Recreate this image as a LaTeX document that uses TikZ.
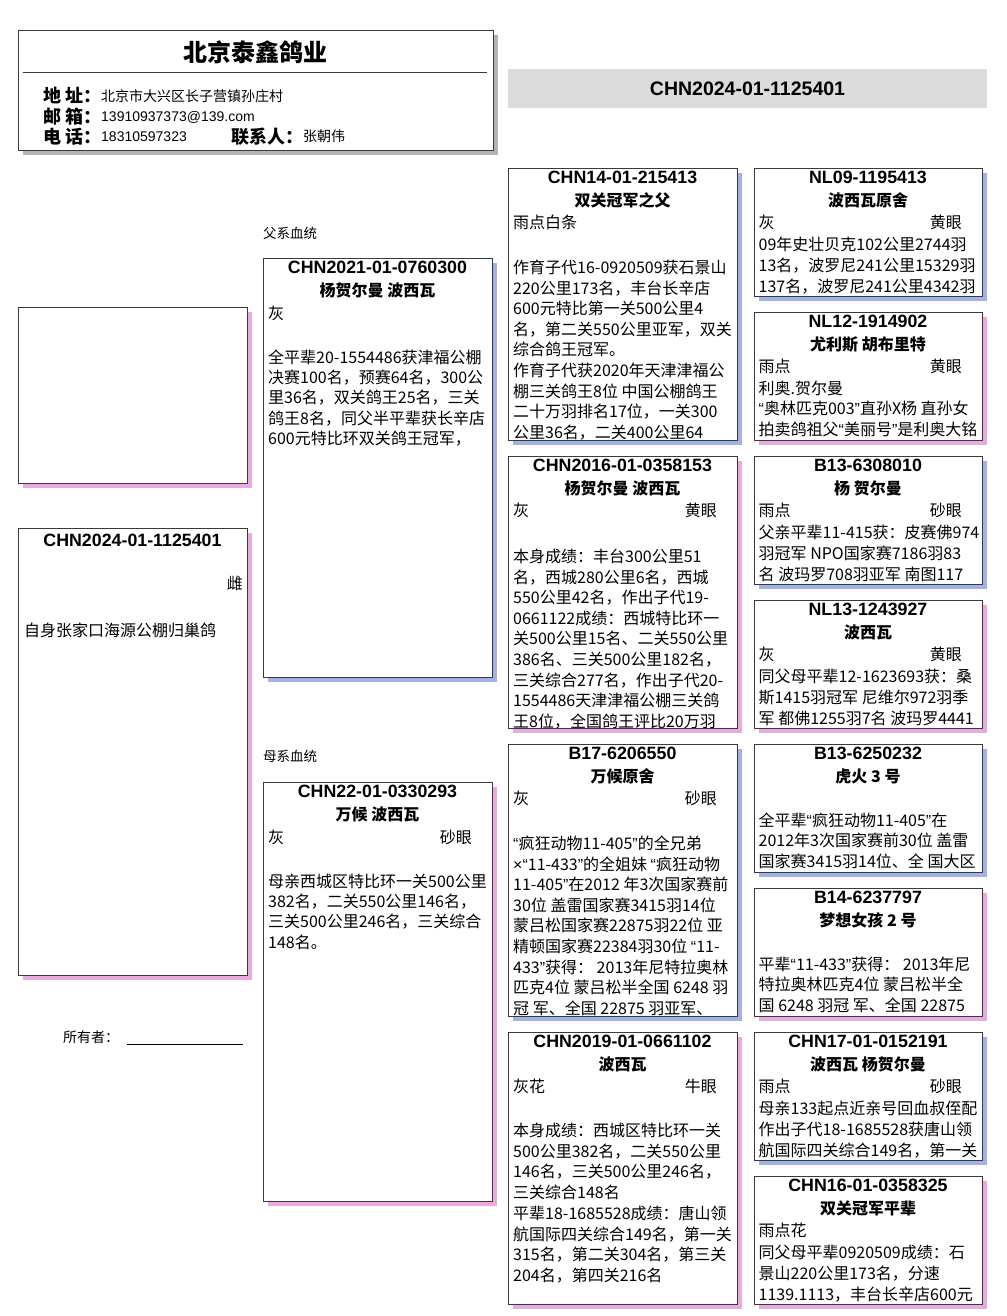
\documentclass[tikz,border=0pt]{standalone}
\usepackage{fontspec}
\setmainfont{Noto Sans CJK SC}
\newfontfamily\idfont{Liberation Sans}
\definecolor{shB}{HTML}{A3B2E6}
\definecolor{shP}{HTML}{EBAADF}
\definecolor{shG}{HTML}{B4B4B4}
\definecolor{edge}{HTML}{3A3A3A}
\definecolor{band}{HTML}{DCDCDC}
\newcommand\bodyf{\fontsize{16}{20}\selectfont}
\newcommand\idf{\idfont\bfseries\fontsize{17.8}{20}\selectfont}
\newcommand\nmf{\bfseries\fontsize{16}{20}\selectfont}
\newcommand\oq{{\idfont“}}
\newcommand\cq{{\idfont”}}
\newcommand\tms{{\idfont×}}
\tikzset{
  txt/.style={anchor=base west, inner sep=0pt, font=\bodyf},
  ttl/.style={anchor=base, inner sep=0pt, font=\idf},
  nm/.style={anchor=base, inner sep=0pt, font=\nmf},
  frame/.style={draw=edge, line width=0.9pt},
}
% box background: x1,y1,x2,y2,shadow
\newcommand\boxbg[5]{%
  \fill[#5] ({#1+5},{#2+5}) rectangle ({#3+5},{#4+5});
  \fill[white] (#1,#2) rectangle (#3,#4);}
\newcommand\boxfg[4]{\draw[frame] (#1,#2) rectangle (#3,#4);}
% head: prefix,x1,y1,x2,id,name
\newcommand\pedhead[6]{%
  \node[ttl] (#1id) at ({(#2+#4)/2},{#3+9.5+6.3}) {#5};
  \node[nm] (#1nm) at ({(#2+#4)/2},{#3+32+6}) {#6};}
% color line: prefix,x1,y1,x2,color,eye
\newcommand\pedcolor[6]{%
  \node[txt] (#1c) at ({#2+5},{#3+54+6}) {#5};
  \node[txt,anchor=base east] (#1e) at ({#4-20},{#3+54+6}) {#6};}
% body: prefix,x,first centre,spacing,lines
\newcommand\pedbody[5]{%
  \foreach \bl [count=\i] in {#5}{\node[txt] (#1b\i) at (#2,{#3+(\i-1)*#4+6}) {\bl};}}
\begin{document}
\begin{tikzpicture}[x=1pt,y=-1pt]
\useasboundingbox (0,0) rectangle (1006,1316);
\fill[white] (0,0) rectangle (1006,1316);

% ---------- header ----------
\boxbg{18}{30}{493}{150}{shG}
\node[anchor=base, inner sep=0pt, font=\bfseries\fontsize{24}{24}\selectfont] (farm) at (255,62) {北京泰鑫鸽业};
\draw[edge, line width=0.8pt] (22.7,72.7) -- (487,72.7);
\node[anchor=base west, inner sep=0pt, font=\bfseries\fontsize{18}{20}\selectfont] (l1) at (43,102.8) {地\hspace{4pt}址：};
\node[anchor=base west, inner sep=0pt, font=\bfseries\fontsize{18}{20}\selectfont] (l2) at (43,123.5) {邮\hspace{4pt}箱：};
\node[anchor=base west, inner sep=0pt, font=\bfseries\fontsize{18}{20}\selectfont] (l3) at (43,143.5) {电\hspace{4pt}话：};
\node[anchor=base west, inner sep=0pt, font=\bfseries\fontsize{18}{20}\selectfont] (l4) at (231.7,143.5) {联系人：};
\node[anchor=base west, inner sep=0pt, font=\fontsize{14}{16}\selectfont] (v1) at (101,101.3) {北京市大兴区长子营镇孙庄村};
\node[anchor=base west, inner sep=0pt, font=\idfont\fontsize{14}{16}\selectfont] (v2) at (101,122) {13910937373@139.com};
\node[anchor=base west, inner sep=0pt, font=\idfont\fontsize{14}{16}\selectfont] (v3) at (101,142) {18310597323};
\node[anchor=base west, inner sep=0pt, font=\fontsize{14}{16}\selectfont] (v4) at (303,142) {张朝伟};
\boxfg{18}{30}{493}{150}

% ---------- ring band ----------
\fill[band] (508,69) rectangle (987,108);
\node[anchor=base, inner sep=0pt, font=\idfont\bfseries\fontsize{19.5}{20}\selectfont] (ring) at (747.5,96) {CHN2024-01-1125401};

% ---------- column 1 ----------
\boxbg{18}{307}{247}{483}{shP}
\boxfg{18}{307}{247}{483}
\boxbg{18}{528}{247}{975}{shP}
\node[ttl] (selfid) at (132.5,546.3) {CHN2024-01-1125401};
\node[txt,anchor=base east] (selfsex) at (243,589) {雌};
\node[txt] (selfnote) at (24,636) {自身张家口海源公棚归巢鸽};
\boxfg{18}{528}{247}{975}
\node[anchor=base west, inner sep=0pt, font=\fontsize{14}{16}\selectfont] (owner) at (63,1042.3) {所有者：};
\coordinate (ulA) at (127,1044);
\coordinate (ulB) at (243,1044);
\draw[black, line width=0.7pt] (ulA) -- (ulB);

% ---------- column 2 ----------
\node[anchor=base west, inner sep=0pt, font=\fontsize{13.5}{16}\selectfont] (sirelab) at (263,238) {父系血统};
\node[anchor=base west, inner sep=0pt, font=\fontsize{13.5}{16}\selectfont] (damlab) at (263,761) {母系血统};

\boxbg{263}{258}{492}{677}{shB}
\pedhead{s}{263}{258}{492}{CHN2021-01-0760300}{杨贺尔曼 波西瓦}
\pedcolor{s}{263}{259}{492}{灰}{}
\pedbody{s}{268}{357}{20.4}{全平辈20-1554486获津福公棚,决赛100名，预赛64名，300公,里36名，双关鸽王25名，三关,鸽王8名，同父半平辈获长辛店,600元特比环双关鸽王冠军，}
\boxfg{263}{258}{492}{677}

\boxbg{263}{782}{492}{1201}{shP}
\pedhead{d}{263}{782}{492}{CHN22-01-0330293}{万候 波西瓦}
\pedcolor{d}{263}{783}{492}{灰}{砂眼}
\pedbody{d}{268}{881.5}{20.2}{母亲西城区特比环一关500公里,382名，二关550公里146名，,三关500公里246名，三关综合,148名。}
\boxfg{263}{782}{492}{1201}

% ---------- column 3 ----------
\boxbg{508}{168}{737}{440}{shB}
\begin{scope}
\clip (508,168) rectangle (737,440);
\pedhead{a}{508}{168}{737}{CHN14-01-215413}{双关冠军之父}
\pedcolor{a}{508}{168}{737}{雨点白条}{}
\pedbody{a}{513}{267.5}{20.6}{作育子代16-0920509获石景山,220公里173名，丰台长辛店,600元特比第一关500公里4,名，第二关550公里亚军，双关,综合鸽王冠军。,作育子代获2020年天津津福公,棚三关鸽王8位 中国公棚鸽王,二十万羽排名17位，一关300,公里36名，二关400公里64}
\end{scope}
\boxfg{508}{168}{737}{440}

\boxbg{508}{456}{737}{728}{shP}
\begin{scope}
\clip (508,456) rectangle (737,728);
\pedhead{b}{508}{456}{737}{CHN2016-01-0358153}{杨贺尔曼 波西瓦}
\pedcolor{b}{508}{456}{737}{灰}{黄眼}
\pedbody{b}{513}{556.5}{20.6}{本身成绩：丰台300公里51,名，西城280公里6名，西城,550公里42名，作出子代19-,0661122成绩：西城特比环一,关500公里15名、二关550公里,386名、三关500公里182名，,三关综合277名，作出子代20-,1554486天津津福公棚三关鸽,王8位，全国鸽王评比20万羽}
\end{scope}
\boxfg{508}{456}{737}{728}

\boxbg{508}{744}{737}{1016}{shB}
\begin{scope}
\clip (508,744) rectangle (737,1016);
\pedhead{c}{508}{744}{737}{B17-6206550}{万候原舍}
\pedcolor{c}{508}{744}{737}{灰}{砂眼}
\pedbody{c}{513}{843.5}{20.6}{\oq 疯狂动物11-405\cq 的全兄弟,\tms\oq 11-433\cq 的全姐妹 \oq 疯狂动物,11-405\cq 在2012 年3次国家赛前,30位 盖雷国家赛3415羽14位,蒙吕松国家赛22875羽22位 亚,精顿国家赛22384羽30位 \oq 11-,433\cq 获得： 2013年尼特拉奥林,匹克4位 蒙吕松半全国 6248 羽,冠 军、全国 22875 羽亚军、}
\end{scope}
\boxfg{508}{744}{737}{1016}

\boxbg{508}{1032}{737}{1304}{shP}
\begin{scope}
\clip (508,1032) rectangle (737,1304);
\pedhead{e}{508}{1032}{737}{CHN2019-01-0661102}{波西瓦}
\pedcolor{e}{508}{1032}{737}{灰花}{牛眼}
\pedbody{e}{513}{1130.5}{20.7}{本身成绩：西城区特比环一关,500公里382名，二关550公里,146名，三关500公里246名，,三关综合148名,平辈18-1685528成绩：唐山领,航国际四关综合149名，第一关,315名，第二关304名，第三关,204名，第四关216名}
\end{scope}
\boxfg{508}{1032}{737}{1304}

% ---------- column 4 ----------
\boxbg{754}{168}{982}{296}{shB}
\begin{scope}
\clip (754,168) rectangle (982,296);
\pedhead{f}{754}{168}{982}{NL09-1195413}{波西瓦原舍}
\pedcolor{f}{753.5}{168}{982}{灰}{黄眼}
\pedbody{f}{758.5}{244.5}{20.8}{09年史壮贝克102公里2744羽,13名，波罗尼241公里15329羽,137名，波罗尼241公里4342羽}
\end{scope}
\boxfg{754}{168}{982}{296}

\boxbg{754}{312}{982}{440}{shP}
\begin{scope}
\clip (754,312) rectangle (982,440);
\pedhead{g}{754}{312}{982}{NL12-1914902}{尤利斯 胡布里特}
\pedcolor{g}{753.5}{312}{982}{雨点}{黄眼}
\pedbody{g}{758.5}{388}{20.8}{利奥.贺尔曼,\oq 奥林匹克003\cq 直孙X杨 直孙女,拍卖鸽祖父\oq 美丽号\cq 是利奥大铭}
\end{scope}
\boxfg{754}{312}{982}{440}

\boxbg{754}{456}{982}{584}{shB}
\begin{scope}
\clip (754,456) rectangle (982,584);
\pedhead{h}{754}{456}{982}{B13-6308010}{杨 贺尔曼}
\pedcolor{h}{753.5}{456}{982}{雨点}{砂眼}
\pedbody{h}{758.5}{532.5}{20.8}{父亲平辈11-415获：皮赛佛974,羽冠军 NPO国家赛7186羽83,名 波玛罗708羽亚军 南图117}
\end{scope}
\boxfg{754}{456}{982}{584}

\boxbg{754}{600}{982}{728}{shP}
\begin{scope}
\clip (754,600) rectangle (982,728);
\pedhead{k}{754}{600}{982}{NL13-1243927}{波西瓦}
\pedcolor{k}{753.5}{600}{982}{灰}{黄眼}
\pedbody{k}{758.5}{676.5}{20.8}{同父母平辈12-1623693获：桑,斯1415羽冠军 尼维尔972羽季,军 都佛1255羽7名 波玛罗4441}
\end{scope}
\boxfg{754}{600}{982}{728}

\boxbg{754}{744}{982}{872}{shB}
\begin{scope}
\clip (754,744) rectangle (982,872);
\pedhead{m}{754}{744}{982}{B13-6250232}{虎火 3 号}
\pedbody{m}{758.5}{820.5}{20.3}{全平辈\oq 疯狂动物11-405\cq 在,2012年3次国家赛前30位 盖雷,国家赛3415羽14位、全 国大区}
\end{scope}
\boxfg{754}{744}{982}{872}

\boxbg{754}{888}{982}{1016}{shP}
\begin{scope}
\clip (754,888) rectangle (982,1016);
\pedhead{n}{754}{888}{982}{B14-6237797}{梦想女孩 2 号}
\pedbody{n}{758.5}{964.5}{20.3}{平辈\oq 11-433\cq 获得： 2013年尼,特拉奥林匹克4位 蒙吕松半全,国 6248 羽冠 军、全国 22875}
\end{scope}
\boxfg{754}{888}{982}{1016}

\boxbg{754}{1032}{982}{1160}{shB}
\begin{scope}
\clip (754,1032) rectangle (982,1160);
\pedhead{p}{754}{1032}{982}{CHN17-01-0152191}{波西瓦 杨贺尔曼}
\pedcolor{p}{753.5}{1032}{982}{雨点}{砂眼}
\pedbody{p}{758.5}{1108.5}{20.8}{母亲133起点近亲号回血叔侄配,作出子代18-1685528获唐山领,航国际四关综合149名，第一关}
\end{scope}
\boxfg{754}{1032}{982}{1160}

\boxbg{754}{1176}{982}{1304}{shP}
\begin{scope}
\clip (754,1176) rectangle (982,1304);
\pedhead{q}{754}{1176}{982}{CHN16-01-0358325}{双关冠军平辈}
\pedcolor{q}{753.5}{1176}{982}{雨点花}{}
\pedbody{q}{758.5}{1252.5}{20.8}{同父母平辈0920509成绩：石,景山220公里173名，分速,1139.1113，丰台长辛店600元}
\end{scope}
\boxfg{754}{1176}{982}{1304}
\end{tikzpicture}
\end{document}
